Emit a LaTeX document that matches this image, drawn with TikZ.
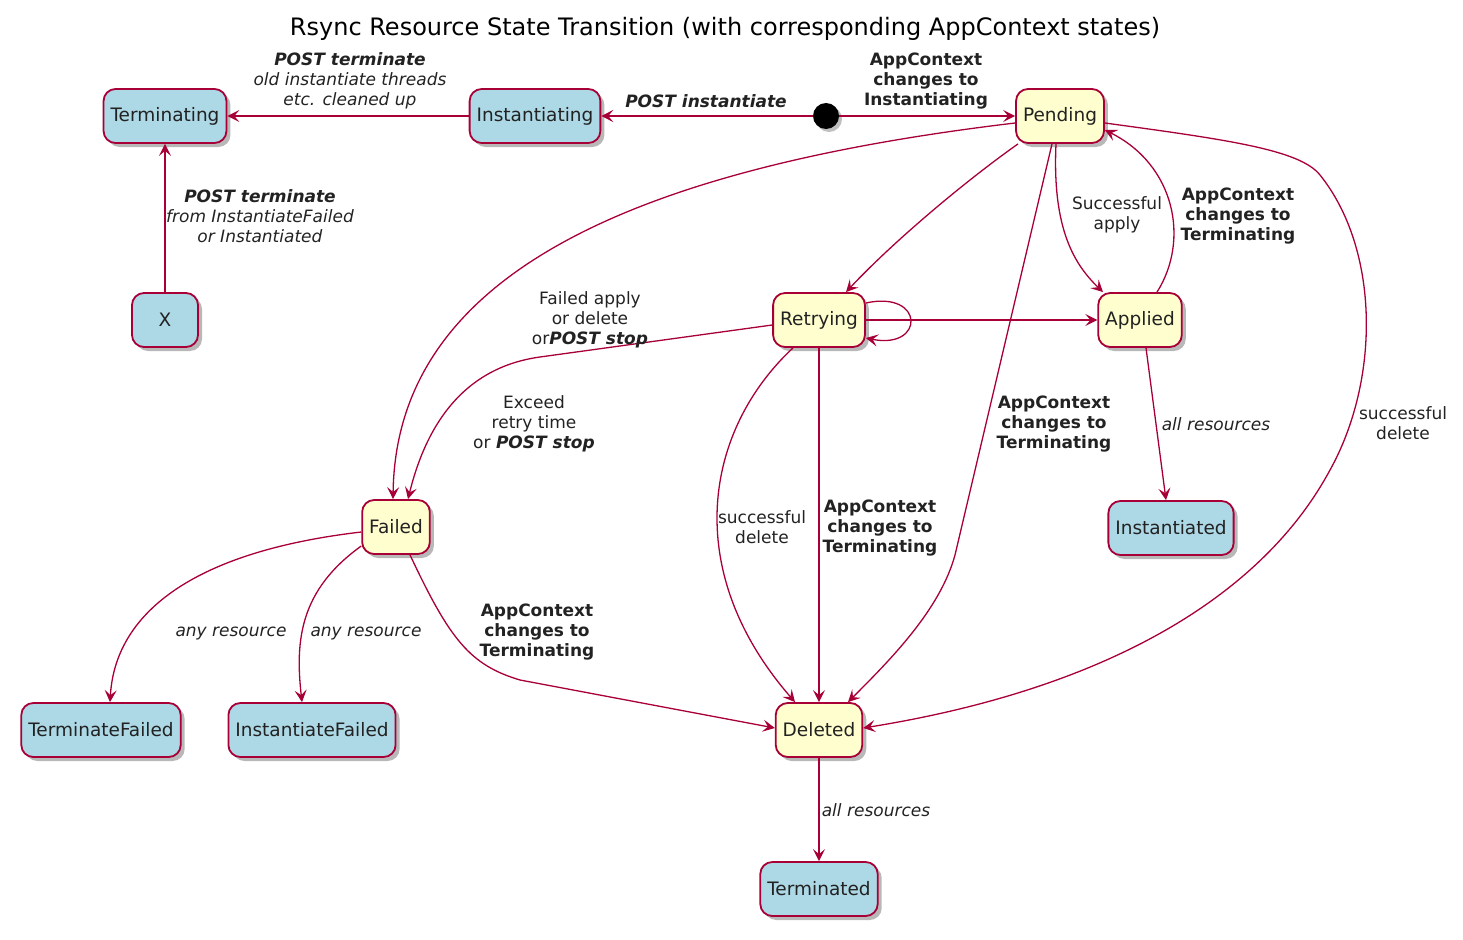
\documentclass[tikz,border=0pt]{standalone}
\usepackage{fontspec}
\setmainfont{DejaVu Sans}
\usetikzlibrary{arrows.meta,shadows}
\definecolor{pred}{HTML}{A80036}
\definecolor{pblue}{HTML}{ADD8E6}
\definecolor{pyel}{HTML}{FEFECE}
\definecolor{ptext}{HTML}{222222}
\tikzset{
  st/.style={draw=pred, line width=1.8pt, rounded corners=12pt, minimum height=54pt,
    minimum width=66pt, inner xsep=7pt, text=ptext, font=\fontsize{18.5}{20}\selectfont,
    drop shadow={shadow xshift=4pt, shadow yshift=-4pt, fill=black, opacity=0.28}},
  bst/.style={st, fill=pblue},
  yst/.style={st, fill=pyel},
  tr/.style={draw=pred, line width=1.3pt, -{Stealth[length=12pt,width=12pt,inset=5pt]}},
  lbl/.style={font=\fontsize{17}{20}\selectfont, align=center, text=ptext, inner sep=0pt},
}
\newcommand{\bi}[1]{\textbf{\textit{#1}}}
\begin{document}
\begin{tikzpicture}[x=1pt,y=-1pt]
\useasboundingbox (0,0) rectangle (1463,939);
\node[font=\fontsize{24}{26}\selectfont, text=black] (title) at (725,29) {Rsync Resource State Transition (with corresponding AppContext states)};

% states
\node[bst] (Term) at (165,116) {Terminating};
\node[bst] (Inst) at (535,116) {Instantiating};
\node[circle, fill=black, minimum size=26pt, inner sep=0pt,
  drop shadow={shadow xshift=3pt, shadow yshift=-3pt, fill=black, opacity=0.25}] (init) at (826,116) {};
\node[yst] (Pend) at (1060,116) {Pending};
\node[bst] (X) at (165,320) {X};
\node[yst] (Retry) at (819,320) {Retrying};
\node[yst] (Applied) at (1140,320) {Applied};
\node[yst] (Failed) at (396,527) {Failed};
\node[bst] (Instd) at (1171,528) {Instantiated};
\node[yst] (Deleted) at (819,730) {Deleted};
\node[bst] (TermF) at (101,730) {TerminateFailed};
\node[bst] (InstF) at (312,730) {InstantiateFailed};
\node[bst] (Termd) at (819,889) {Terminated};

% transitions
\draw[tr] (init) -- (Pend);
\draw[tr] (init) -- (Inst);
\draw[tr] (Inst) -- (Term);
\draw[tr] (X) -- (Term);
\draw[tr] ([yshift=-7pt]Pend.west) .. controls (620,170) and (396,280) .. ([xshift=-3pt]Failed.north);
\draw[tr] ([xshift=-42pt]Pend.south) .. controls (960,185) and (890,245) .. ([xshift=27pt]Retry.north);
\draw[tr] ([yshift=17pt]Retry.east) .. controls (925,290) and (925,350) .. ([yshift=-18pt]Retry.east);
\draw[tr] (Retry) -- (Applied);
\draw[tr] ([xshift=-4pt]Pend.south) .. controls (1052,230) and (1075,265) .. ([xshift=-37pt]Applied.north);
\draw[tr] ([xshift=17pt]Applied.north) .. controls (1190,240) and (1175,165) .. ([yshift=-14pt]Pend.east);
\draw[tr] ([xshift=-8pt]Pend.south) -- (955,555) .. controls (940,610) and (890,660) .. ([xshift=29pt]Deleted.north);
\draw[tr] ([yshift=-7pt]Pend.east) .. controls (1230,140) and (1300,150) .. (1320,175)
   .. controls (1380,250) and (1380,380) .. (1330,470)
   .. controls (1260,600) and (1100,690) .. ([yshift=2pt]Deleted.east);
\draw[tr] ([xshift=6pt]Applied.south) -- ([xshift=-5pt]Instd.north);
\draw[tr] ([xshift=-26pt]Retry.south) .. controls (705,430) and (680,570) .. ([xshift=-24pt]Deleted.north);
\draw[tr] (Retry) -- (Deleted);
\draw[tr] ([yshift=-5pt]Retry.west) -- (540,357) .. controls (460,368) and (425,430) .. ([xshift=12pt]Failed.north);
\draw[tr] ([yshift=-5pt]Failed.west) .. controls (190,552) and (115,615) .. ([xshift=9pt]TermF.north);
\draw[tr] ([yshift=-19pt]Failed.west) .. controls (300,590) and (295,640) .. ([xshift=-10pt]InstF.north);
\draw[tr] ([xshift=14pt]Failed.south) .. controls (450,640) and (470,665) .. (520,680) -- ([yshift=2pt]Deleted.west);
\draw[tr] (Deleted) -- (Termd);

% labels
\node[lbl] (l1) at (926,81) {\textbf{AppContext}\\\textbf{changes to}\\\textbf{Instantiating}};
\node[lbl] (l2) at (706,101) {\bi{POST instantiate}};
\node[lbl] (l3) at (350,81) {\bi{POST terminate}\\\textit{old instantiate threads}\\\textit{etc. cleaned up}};
\node[lbl] (l4) at (260,216) {\bi{POST terminate}\\\textit{from InstantiateFailed}\\\textit{or Instantiated}};
\node[lbl] (l5) at (590,320) {Failed apply\\or delete\\or\bi{POST stop}};
\node[lbl] (l6) at (1117,215) {Successful\\apply};
\node[lbl] (l7) at (1238,216) {\textbf{AppContext}\\\textbf{changes to}\\\textbf{Terminating}};
\node[lbl] (l8) at (1054,424) {\textbf{AppContext}\\\textbf{changes to}\\\textbf{Terminating}};
\node[lbl] (l9) at (1403,423) {successful\\delete};
\node[lbl] (l10) at (1216,424) {\textit{all resources}};
\node[lbl] (l11) at (534,424) {Exceed\\retry time\\or \bi{POST stop}};
\node[lbl] (l12) at (762,527) {successful\\delete};
\node[lbl] (l13) at (880,528) {\textbf{AppContext}\\\textbf{changes to}\\\textbf{Terminating}};
\node[lbl] (l14) at (231,633) {\textit{any resource}};
\node[lbl] (l15) at (366,633) {\textit{any resource}};
\node[lbl] (l16) at (537,632) {\textbf{AppContext}\\\textbf{changes to}\\\textbf{Terminating}};
\node[lbl] (l17) at (876,810) {\textit{all resources}};
\end{tikzpicture}
\end{document}
